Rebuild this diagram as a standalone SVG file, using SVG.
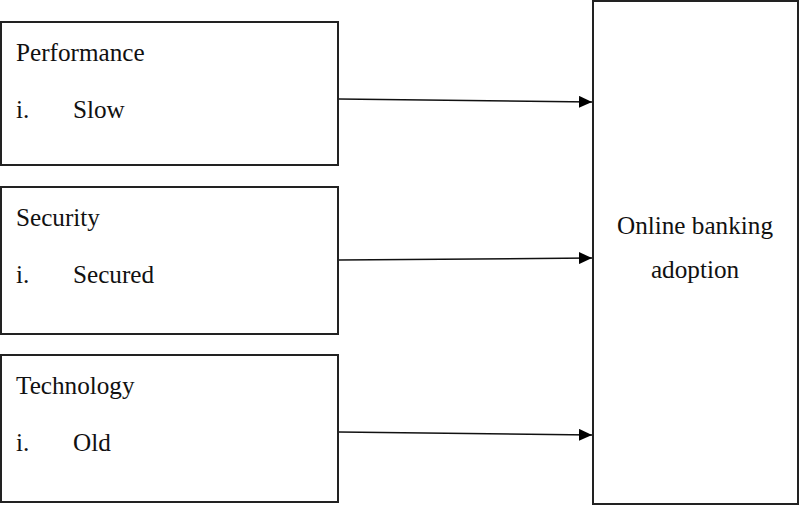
<svg xmlns="http://www.w3.org/2000/svg" width="800" height="506" viewBox="0 0 800 506">
<style>
.box{fill:#fff;stroke:#222;stroke-width:2}
.t{font-family:"Liberation Serif","Times New Roman",serif;font-size:25.2px;fill:#111}
.c{stroke:#111;stroke-width:1.5;fill:none}
</style>
<defs>
<marker id="ah" markerWidth="13" markerHeight="12" refX="13" refY="6" orient="auto" markerUnits="userSpaceOnUse" viewBox="0 0 13 12"><path d="M0,0 L13,6 L0,12 z" fill="#000"/></marker>
</defs>
<rect width="800" height="506" fill="#fff"/>
<g id="performance">
<rect class="box" x="1" y="22" width="337" height="143"/>
<text class="t" x="16" y="61">Performance</text>
<text class="t" x="16" y="118">i.</text>
<text class="t" x="73" y="118">Slow</text>
</g>
<g id="security">
<rect class="box" x="1" y="187" width="337" height="147"/>
<text class="t" x="16" y="226">Security</text>
<text class="t" x="16" y="283">i.</text>
<text class="t" x="73" y="283">Secured</text>
</g>
<g id="technology">
<rect class="box" x="1" y="355" width="337" height="147"/>
<text class="t" x="16" y="394">Technology</text>
<text class="t" x="16" y="451">i.</text>
<text class="t" x="73" y="451">Old</text>
</g>
<g id="adoption">
<rect class="box" x="593" y="1" width="205" height="503"/>
<text class="t" x="695" y="234" text-anchor="middle">Online banking</text>
<text class="t" x="695" y="278" text-anchor="middle">adoption</text>
</g>
<g id="connectors">
<line class="c" x1="339" y1="99" x2="592" y2="102" marker-end="url(#ah)"/>
<line class="c" x1="339" y1="260" x2="592" y2="258" marker-end="url(#ah)"/>
<line class="c" x1="339" y1="432" x2="592" y2="435" marker-end="url(#ah)"/>
</g>
</svg>
